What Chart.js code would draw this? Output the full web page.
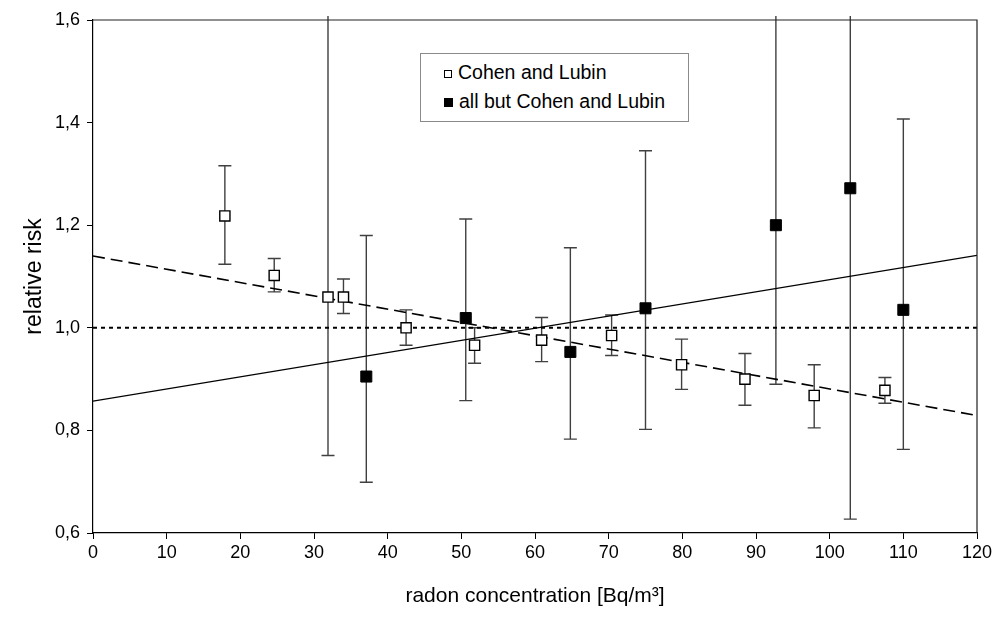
<!DOCTYPE html>
<html>
<head>
<meta charset="utf-8">
<script src="https://cdn.jsdelivr.net/npm/chart.js@4.4.1/dist/chart.umd.min.js"></script>
<style>
  html, body { margin: 0; padding: 0; background: #fff; }
  #wrap { position: relative; width: 996px; height: 623px; }
  #legend {
    position: absolute; left: 420px; top: 53px; width: 267px; height: 67px;
    border: 1px solid #8a8a8a; background: #fff;
    font-family: Arial, "Liberation Sans", sans-serif; font-size: 19.5px; color: #000;
  }
  .item { position: absolute; left: 23px; height: 22px; line-height: 22px; white-space: nowrap; }
  .sw { display: inline-block; width: 8px; height: 8px; margin-right: 6px; vertical-align: 1px; box-sizing: border-box; }
  .open { border: 1px solid #000; background: #fff; }
  .fill { background: #000; width: 9px; height: 9px; }
</style>
</head>
<body>
<div id="wrap">
  <canvas id="c" width="996" height="623"></canvas>
  <div id="legend"></div>
</div>
<script>
// ---- data ----
const cohenX  = [17.9, 24.6, 31.9, 34.0, 42.5, 51.8, 60.9, 70.4, 79.9, 88.5, 97.9, 107.5];
const cohenY  = [1.218, 1.102, 1.060, 1.060, 1.000, 0.966, 0.976, 0.985, 0.928, 0.900, 0.868, 0.878];
const cohenHi = [1.316, 1.135, 1.650, 1.095, 1.035, 1.000, 1.020, 1.025, 0.978, 0.950, 0.928, 0.903];
const cohenLo = [1.124, 1.070, 0.751, 1.028, 0.966, 0.931, 0.934, 0.946, 0.880, 0.849, 0.805, 0.853];

const otherX  = [37.1, 50.6, 64.8, 75.0, 92.7, 102.8, 110.0];
const otherY  = [0.905, 1.019, 0.953, 1.038, 1.200, 1.272, 1.035];
const otherHi = [1.180, 1.212, 1.156, 1.345, 1.650, 1.650, 1.407];
const otherLo = [0.699, 0.858, 0.783, 0.802, 0.890, 0.627, 0.763];

const fitX = [0, 120];
const fitOtherY = [0.857, 1.141];   // solid line
const fitCohenY = [1.140, 0.829];   // dashed line
const refY = [1.0, 1.0];            // dotted line

const seriesNames = ["Cohen and Lubin", "all but Cohen and Lubin"];
const xTicks = [0, 120, 10];
const yTicks = [0.6, 1.6, 0.2];
const xTitle = "radon concentration [Bq/m³]";
const yTitle = "relative risk";

// ---- build ----
const pts = (xs, ys) => xs.map((x, i) => ({x: x, y: ys[i]}));
const FONT = 'Arial, "Liberation Sans", sans-serif';

// legend (HTML)
const lg = document.getElementById('legend');
seriesNames.forEach((n, i) => {
  const d = document.createElement('div');
  d.className = 'item';
  d.style.top = (i === 0 ? 7 : 36) + 'px';
  d.innerHTML = '<span class="sw ' + (i === 0 ? 'open' : 'fill') + '"></span>' + n;
  lg.appendChild(d);
});

const errorBars = {
  id: 'errorBars',
  beforeDatasetsDraw(chart) {
    const {ctx, chartArea, scales: {x, y}} = chart;
    ctx.save();
    ctx.beginPath();
    ctx.rect(chartArea.left, chartArea.top - 4, chartArea.right - chartArea.left, chartArea.bottom - chartArea.top + 4);
    ctx.clip();
    ctx.strokeStyle = '#404040';
    ctx.lineWidth = 1.4;
    const draw = (xs, his, los) => {
      xs.forEach((xv, i) => {
        const px = x.getPixelForValue(xv);
        const pt = y.getPixelForValue(his[i]);
        const pb = y.getPixelForValue(los[i]);
        ctx.beginPath();
        ctx.moveTo(px, pt); ctx.lineTo(px, pb);
        ctx.moveTo(px - 6.5, pt); ctx.lineTo(px + 6.5, pt);
        ctx.moveTo(px - 6.5, pb); ctx.lineTo(px + 6.5, pb);
        ctx.stroke();
      });
    };
    draw(cohenX, cohenHi, cohenLo);
    draw(otherX, otherHi, otherLo);
    ctx.restore();
  }
};

const frame = {
  id: 'frame',
  afterDraw(chart) {
    const {ctx, chartArea: a} = chart;
    ctx.save();
    ctx.strokeStyle = '#222';
    ctx.lineWidth = 1.2;
    ctx.beginPath();
    ctx.moveTo(a.left, a.top); ctx.lineTo(a.right, a.top); ctx.lineTo(a.right, a.bottom);
    ctx.stroke();
    ctx.restore();
  }
};

new Chart(document.getElementById('c'), {
  type: 'scatter',
  data: {
    datasets: [
      { label: seriesNames[0], data: pts(cohenX, cohenY), pointStyle: 'rect', pointRadius: 7.2,
        backgroundColor: '#fff', borderColor: '#000', borderWidth: 1.4, order: 0 },
      { label: seriesNames[1], data: pts(otherX, otherY), pointStyle: 'rect', pointRadius: 7.8,
        backgroundColor: '#000', borderColor: '#000', borderWidth: 1, order: 0 },
      { label: 'fit all but', data: pts(fitX, fitOtherY), showLine: true, pointRadius: 0,
        borderColor: '#000', borderWidth: 1.2, order: 1 },
      { label: 'fit Cohen', data: pts(fitX, fitCohenY), showLine: true, pointRadius: 0,
        borderColor: '#000', borderWidth: 1.6, borderDash: [12, 6], order: 1 },
      { label: 'reference', data: pts(fitX, refY), showLine: true, pointRadius: 0,
        borderColor: '#000', borderWidth: 2, borderDash: [4, 4], order: 1 }
    ]
  },
  options: {
    responsive: false,
    animation: false,
    devicePixelRatio: 1,
    layout: { padding: { top: 20, right: 19, left: 0, bottom: 0 } },
    plugins: { legend: { display: false }, tooltip: { enabled: false } },
    scales: {
      x: {
        type: 'linear', min: xTicks[0], max: xTicks[1],
        ticks: { stepSize: xTicks[2], color: '#000', font: { family: FONT, size: 18 }, padding: 3, maxRotation: 0 },
        grid: { display: true, drawOnChartArea: false, drawTicks: true, tickLength: 6, color: '#000' },
        border: { display: true, color: '#000', width: 1.2 },
        title: { display: true, text: xTitle, color: '#000', font: { family: FONT, size: 21 }, padding: { top: 0, bottom: 14 } },
        afterFit(s) { s.height = 90; }
      },
      y: {
        type: 'linear', min: yTicks[0], max: yTicks[1],
        ticks: { stepSize: yTicks[2], color: '#000', font: { family: FONT, size: 18 }, padding: 7,
          callback: v => v.toFixed(1).replace('.', ',') },
        grid: { display: true, drawOnChartArea: false, drawTicks: true, tickLength: 6, color: '#000' },
        border: { display: true, color: '#000', width: 1.2 },
        title: { display: true, text: yTitle, color: '#000', font: { family: FONT, size: 23 }, padding: { top: 21, bottom: 0 } },
        afterFit(s) { s.width = 93; }
      }
    }
  },
  plugins: [errorBars, frame]
});
</script>
</body>
</html>
